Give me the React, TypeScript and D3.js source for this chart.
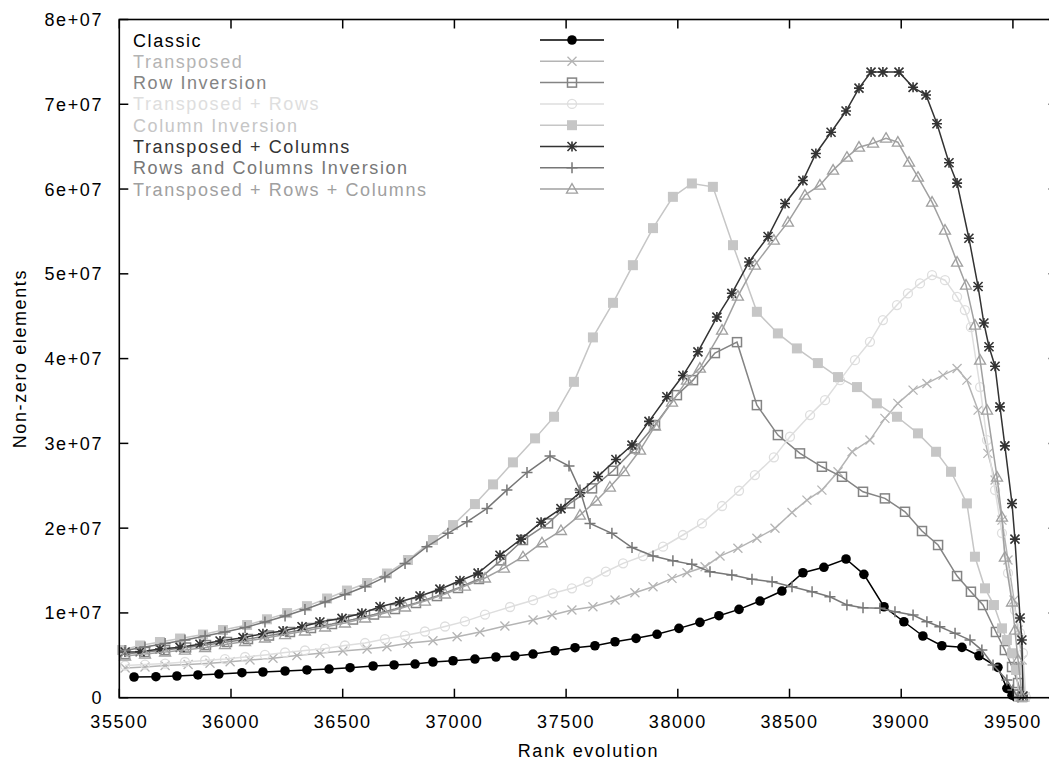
import React from 'react';
import * as d3 from 'd3';

// rank vs non-zero elements (values in millions)
const classic: [number, number][] = [
  [35566, 2.44], [35664, 2.48], [35758, 2.56], [35852, 2.68], [35946, 2.79], [36049, 2.95],
  [36143, 3.03], [36242, 3.15], [36340, 3.27], [36439, 3.38], [36533, 3.54], [36636, 3.74],
  [36730, 3.86], [36824, 3.97], [36904, 4.21], [36994, 4.36], [37092, 4.56], [37186, 4.8],
  [37271, 4.92], [37352, 5.15], [37450, 5.54], [37540, 5.9], [37629, 6.13], [37719, 6.6],
  [37813, 7.0], [37907, 7.48], [38005, 8.18], [38099, 8.89], [38184, 9.67], [38274, 10.42],
  [38368, 11.4], [38466, 12.58], [38560, 14.74], [38654, 15.38], [38753, 16.36], [38833, 14.55],
  [38923, 10.73], [39012, 8.96], [39097, 7.28], [39182, 6.13], [39272, 5.94], [39348, 4.95],
  [39433, 3.58], [39473, 1.1], [39496, 0.3], [39514, 0.05],
];

const transposed: [number, number][] = [
  [35526, 3.5], [35615, 3.62], [35705, 3.8], [35808, 3.91], [35906, 4.06], [35996, 4.24],
  [36085, 4.45], [36188, 4.65], [36295, 4.98], [36398, 5.24], [36501, 5.5], [36609, 5.74],
  [36698, 6.01], [36792, 6.41], [36904, 6.72], [37012, 7.19], [37114, 7.75], [37226, 8.45],
  [37352, 9.16], [37437, 9.75], [37526, 10.34], [37620, 10.73], [37719, 11.52], [37808, 12.38],
  [37889, 13.09], [37974, 14.08], [38041, 14.74], [38122, 15.45], [38189, 16.71], [38269, 17.62],
  [38354, 18.8], [38435, 19.98], [38511, 21.84], [38578, 23.31], [38645, 24.49], [38717, 26.65],
  [38780, 29.01], [38860, 30.39], [38927, 32.95], [38985, 34.72], [39053, 36.28], [39115, 37.07],
  [39187, 38.05], [39250, 38.84], [39294, 37.46], [39344, 33.92], [39388, 28.82], [39420, 25.67],
  [39451, 20.95], [39478, 16.24], [39505, 11.52], [39523, 7.98], [39541, 4.45], [39554, 0.08],
];

const rowInversion: [number, number][] = [
  [35526, 5.15], [35615, 5.39], [35705, 5.62], [35799, 5.92], [35888, 6.21], [35982, 6.57],
  [36076, 6.92], [36170, 7.33], [36264, 7.75], [36358, 8.22], [36452, 8.69], [36546, 9.22],
  [36640, 9.81], [36734, 10.46], [36828, 11.17], [36922, 11.99], [37016, 12.94], [37110, 14.0],
  [37209, 16.2], [37307, 18.6], [37419, 20.56], [37517, 22.92], [37616, 24.69], [37710, 26.77],
  [37808, 29.41], [37898, 32.16], [37996, 35.69], [38068, 37.46], [38166, 40.65], [38265, 41.94],
  [38354, 34.51], [38448, 30.98], [38547, 28.82], [38645, 27.24], [38735, 26.06], [38829, 24.29],
  [38927, 23.51], [39017, 21.93], [39093, 19.66], [39165, 18.01], [39250, 14.35], [39312, 12.5],
  [39366, 10.93], [39424, 7.75], [39464, 5.62], [39496, 3.62], [39523, 1.73], [39541, 0.08],
];

const transposedRows: [number, number][] = [
  [35526, 3.8], [35615, 3.91], [35705, 4.03], [35794, 4.21], [35884, 4.39], [35973, 4.56],
  [36063, 4.8], [36152, 5.04], [36242, 5.33], [36331, 5.57], [36421, 5.8], [36510, 6.16],
  [36600, 6.45], [36689, 6.92], [36779, 7.33], [36868, 7.81], [36958, 8.4], [37047, 9.0],
  [37137, 9.8], [37249, 10.7], [37352, 11.5], [37441, 12.31], [37526, 12.9], [37598, 13.68],
  [37678, 14.86], [37755, 15.85], [37844, 16.71], [37934, 17.81], [38023, 19.19], [38108, 20.56],
  [38198, 22.61], [38274, 24.41], [38345, 26.26], [38430, 28.35], [38502, 30.78], [38592, 33.34],
  [38659, 35.1], [38726, 37.46], [38793, 39.82], [38860, 41.98], [38918, 44.54], [38981, 46.31],
  [39030, 47.69], [39084, 48.87], [39138, 49.84], [39196, 49.25], [39250, 47.29], [39285, 45.72],
  [39312, 43.71], [39353, 36.64], [39384, 30.39], [39420, 24.49], [39451, 19.42], [39478, 14.7],
  [39509, 10.34], [39532, 7.63], [39545, 5.27], [39558, 0.08],
];

const columnInversion: [number, number][] = [
  [35512, 5.62], [35593, 6.16], [35682, 6.57], [35772, 6.98], [35875, 7.45], [35964, 7.98],
  [36072, 8.57], [36161, 9.25], [36251, 9.98], [36340, 10.8], [36430, 11.7], [36519, 12.64],
  [36609, 13.53], [36698, 14.65], [36792, 16.24], [36904, 18.6], [36994, 20.36], [37092, 22.84],
  [37173, 25.16], [37262, 27.76], [37361, 30.59], [37446, 33.14], [37535, 37.26], [37620, 42.5],
  [37710, 46.58], [37799, 51.02], [37889, 55.39], [37978, 59.08], [38063, 60.66], [38157, 60.26],
  [38247, 53.38], [38354, 45.52], [38448, 42.97], [38533, 41.2], [38627, 39.47], [38717, 37.82],
  [38802, 36.64], [38891, 34.72], [38981, 33.14], [39075, 31.18], [39156, 29.01], [39223, 26.65],
  [39294, 22.92], [39330, 16.63], [39375, 12.9], [39415, 10.93], [39451, 8.18], [39473, 6.8],
  [39496, 5.24], [39514, 3.27], [39527, 0.08],
];

const transposedColumns: [number, number][] = [
  [35526, 5.39], [35593, 5.42], [35682, 5.74], [35772, 5.94], [35861, 6.3], [35951, 6.69],
  [36054, 7.08], [36143, 7.55], [36233, 7.87], [36318, 8.37], [36398, 8.93], [36497, 9.36],
  [36586, 9.95], [36667, 10.73], [36756, 11.32], [36846, 12.0], [36935, 12.8], [37025, 13.8],
  [37106, 14.7], [37204, 16.8], [37298, 18.7], [37388, 20.7], [37477, 22.3], [37562, 24.2],
  [37643, 26.1], [37723, 28.1], [37795, 29.8], [37871, 32.6], [37951, 35.5], [38023, 38.0],
  [38090, 40.8], [38175, 44.9], [38242, 47.7], [38319, 51.4], [38404, 54.4], [38480, 58.3],
  [38560, 61.0], [38618, 64.2], [38686, 66.7], [38753, 69.2], [38811, 71.9], [38865, 73.8],
  [38918, 73.8], [38990, 73.8], [39053, 72.0], [39111, 71.1], [39160, 67.7], [39214, 63.1],
  [39250, 60.7], [39303, 54.2], [39344, 48.5], [39370, 44.2], [39393, 41.4], [39420, 39.1],
  [39442, 34.3], [39464, 29.7], [39496, 22.9], [39509, 18.7], [39532, 9.4], [39540, 6.8],
  [39545, 0.2],
];

const rowsColumnsInversion: [number, number][] = [
  [35526, 5.57], [35615, 5.98], [35705, 6.39], [35794, 6.8], [35884, 7.28], [35973, 7.75],
  [36063, 8.28], [36152, 8.93], [36242, 9.63], [36331, 10.4], [36421, 11.29], [36510, 12.17],
  [36600, 13.11], [36689, 14.23], [36779, 15.82], [36877, 17.81], [36971, 19.39], [37056, 20.75],
  [37146, 22.33], [37235, 24.49], [37325, 26.56], [37428, 28.5], [37513, 27.32], [37562, 24.5],
  [37607, 20.56], [37705, 19.39], [37795, 17.71], [37889, 16.71], [37978, 16.15], [38063, 15.73],
  [38144, 14.86], [38242, 14.47], [38332, 13.96], [38422, 13.68], [38511, 13.09], [38601, 12.5],
  [38681, 11.91], [38757, 10.93], [38829, 10.61], [38905, 10.54], [38972, 10.14], [39053, 9.75],
  [39115, 8.96], [39173, 8.37], [39241, 7.59], [39308, 6.8], [39361, 5.62], [39411, 3.86],
  [39473, 2.09], [39500, 0.91], [39523, 0.08],
];

const transposedRowsColumns: [number, number][] = [
  [35526, 4.92], [35615, 5.15], [35705, 5.39], [35794, 5.62], [35884, 5.92], [35973, 6.27],
  [36063, 6.63], [36152, 7.04], [36242, 7.45], [36331, 7.87], [36421, 8.34], [36510, 8.81],
  [36600, 9.4], [36689, 9.99], [36779, 10.7], [36868, 11.4], [36958, 12.23], [37047, 13.17],
  [37137, 14.12], [37222, 15.29], [37307, 16.63], [37392, 18.28], [37477, 19.72], [37562, 21.54],
  [37634, 23.2], [37696, 24.85], [37759, 26.67], [37831, 29.21], [37898, 32.04], [37974, 34.87],
  [38041, 37.46], [38099, 38.88], [38198, 43.36], [38269, 47.37], [38345, 51.03], [38430, 53.97],
  [38493, 56.1], [38569, 59.28], [38636, 60.46], [38695, 62.23], [38757, 63.76], [38811, 64.94],
  [38874, 65.41], [38932, 66.0], [38985, 65.53], [39035, 63.17], [39075, 61.4], [39138, 58.46],
  [39196, 55.15], [39250, 51.38], [39290, 48.67], [39330, 43.95], [39353, 39.82], [39384, 33.92],
  [39429, 26.02], [39451, 21.3], [39464, 16.59], [39496, 11.29], [39509, 7.98], [39523, 4.45],
  [39541, 0.08],
];

const seriesNames = [
  'Classic',
  'Transposed',
  'Row Inversion',
  'Transposed + Rows',
  'Column Inversion',
  'Transposed + Columns',
  'Rows and Columns Inversion',
  'Transposed + Rows + Columns',
];
const seriesData = [
  classic, transposed, rowInversion, transposedRows,
  columnInversion, transposedColumns, rowsColumnsInversion, transposedRowsColumns,
];
const seriesColors = ['#000000', '#b4b4b4', '#848484', '#dedede', '#c6c6c6', '#333333', '#777777', '#a0a0a0'];
const seriesMarkers = ['circleFilled', 'cross', 'squareOpen', 'circleOpen', 'squareFilled', 'star', 'plus', 'triangleOpen'];

const xTicks = [35500, 36000, 36500, 37000, 37500, 38000, 38500, 39000, 39500];
const yTicks = [0, 10, 20, 30, 40, 50, 60, 70, 80];
const yTickLabels = ['0', '1e+07', '2e+07', '3e+07', '4e+07', '5e+07', '6e+07', '7e+07', '8e+07'];

const W = 1049;
const H = 760;
const left = 119.3;
const right = 1057.6;
const top = 19.5;
const bottom = 697.7;
const font = '"Liberation Sans", Arial, sans-serif';

const Marker = ({ type, x, y, color }: { type: string; x: number; y: number; color: string }) => {
  const s = 4.5;
  switch (type) {
    case 'circleFilled':
      return <circle cx={x} cy={y} r={4.8} fill={color} />;
    case 'cross':
      return <path d={`M${x - s},${y - s}L${x + s},${y + s}M${x - s},${y + s}L${x + s},${y - s}`} stroke={color} strokeWidth={1.3} />;
    case 'squareOpen':
      return <rect x={x - 4.5} y={y - 4.5} width={9} height={9} fill="none" stroke={color} strokeWidth={1.5} />;
    case 'circleOpen':
      return <circle cx={x} cy={y} r={4.5} fill="none" stroke={color} strokeWidth={1.3} />;
    case 'squareFilled':
      return <rect x={x - 5} y={y - 5} width={10} height={10} fill={color} />;
    case 'star':
      return (
        <path
          d={`M${x - 5},${y}L${x + 5},${y}M${x},${y - 5}L${x},${y + 5}M${x - s},${y - s}L${x + s},${y + s}M${x - s},${y + s}L${x + s},${y - s}`}
          stroke={color}
          strokeWidth={1.6}
        />
      );
    case 'plus':
      return <path d={`M${x - 5.5},${y}L${x + 5.5},${y}M${x},${y - 5.5}L${x},${y + 5.5}`} stroke={color} strokeWidth={1.5} />;
    case 'triangleOpen':
      return <path d={`M${x},${y - 5.5}L${x + 5.5},${y + 4}L${x - 5.5},${y + 4}Z`} fill="none" stroke={color} strokeWidth={1.3} />;
    default:
      return null;
  }
};

const App = () => {
  const xScale = d3.scaleLinear().domain([35500, 39700]).range([left, right]);
  const yScale = d3.scaleLinear().domain([0, 80]).range([bottom, top]);
  const line = d3
    .line<[number, number]>()
    .x((d) => xScale(d[0]))
    .y((d) => yScale(d[1]));

  const legendY = (i: number) => 40 + i * 21.3;

  return (
    <svg width={W} height={H} style={{ position: 'absolute', left: 0, top: 0, background: '#fff' }} fontFamily={font}>
      <rect x={0} y={0} width={W} height={H} fill="#fff" />

      {/* series */}
      {seriesData.map((data, i) => (
        <g key={seriesNames[i]}>
          <path d={line(data) || ''} fill="none" stroke={seriesColors[i]} strokeWidth={1.5} />
          {data.map((d, j) => (
            <Marker key={j} type={seriesMarkers[i]} x={xScale(d[0])} y={yScale(d[1])} color={seriesColors[i]} />
          ))}
        </g>
      ))}

      {/* border */}
      <rect x={left} y={top} width={right - left} height={bottom - top} fill="none" stroke="#000" strokeWidth={1.6} />

      {/* x ticks */}
      {xTicks.map((t) => (
        <g key={t}>
          <line x1={xScale(t)} x2={xScale(t)} y1={bottom} y2={bottom - 9} stroke="#000" strokeWidth={1.5} />
          <line x1={xScale(t)} x2={xScale(t)} y1={top} y2={top + 9} stroke="#000" strokeWidth={1.5} />
          <text x={xScale(t)} y={728} textAnchor="middle" fontSize={18} letterSpacing={1.6} fill="#000">
            {t}
          </text>
        </g>
      ))}

      {/* y ticks */}
      {yTicks.map((t, i) => (
        <g key={t}>
          <line x1={left} x2={left + 9} y1={yScale(t)} y2={yScale(t)} stroke="#000" strokeWidth={1.5} />
          <line x1={right} x2={right - 9} y1={yScale(t)} y2={yScale(t)} stroke="#000" strokeWidth={1.5} />
          <text x={103} y={yScale(t) + 6.5} textAnchor="end" fontSize={18} letterSpacing={1.6} fill="#000">
            {yTickLabels[i]}
          </text>
        </g>
      ))}

      {/* axis titles */}
      <text x={(left + right) / 2} y={757} textAnchor="middle" fontSize={18} letterSpacing={1.6} fill="#000">
        Rank evolution
      </text>
      <text
        transform={`translate(26,${(top + bottom) / 2}) rotate(-90)`}
        textAnchor="middle"
        fontSize={18}
        letterSpacing={1.6}
        fill="#000"
      >
        Non-zero elements
      </text>

      {/* legend */}
      {seriesNames.map((name, i) => (
        <g key={name}>
          <text x={133} y={legendY(i) + 6.5} fontSize={18} letterSpacing={1.6} fill={seriesColors[i]}>
            {name}
          </text>
          <line x1={540} x2={604} y1={legendY(i)} y2={legendY(i)} stroke={seriesColors[i]} strokeWidth={1.5} />
          <Marker type={seriesMarkers[i]} x={572} y={legendY(i)} color={seriesColors[i]} />
        </g>
      ))}
    </svg>
  );
};

export default App;
